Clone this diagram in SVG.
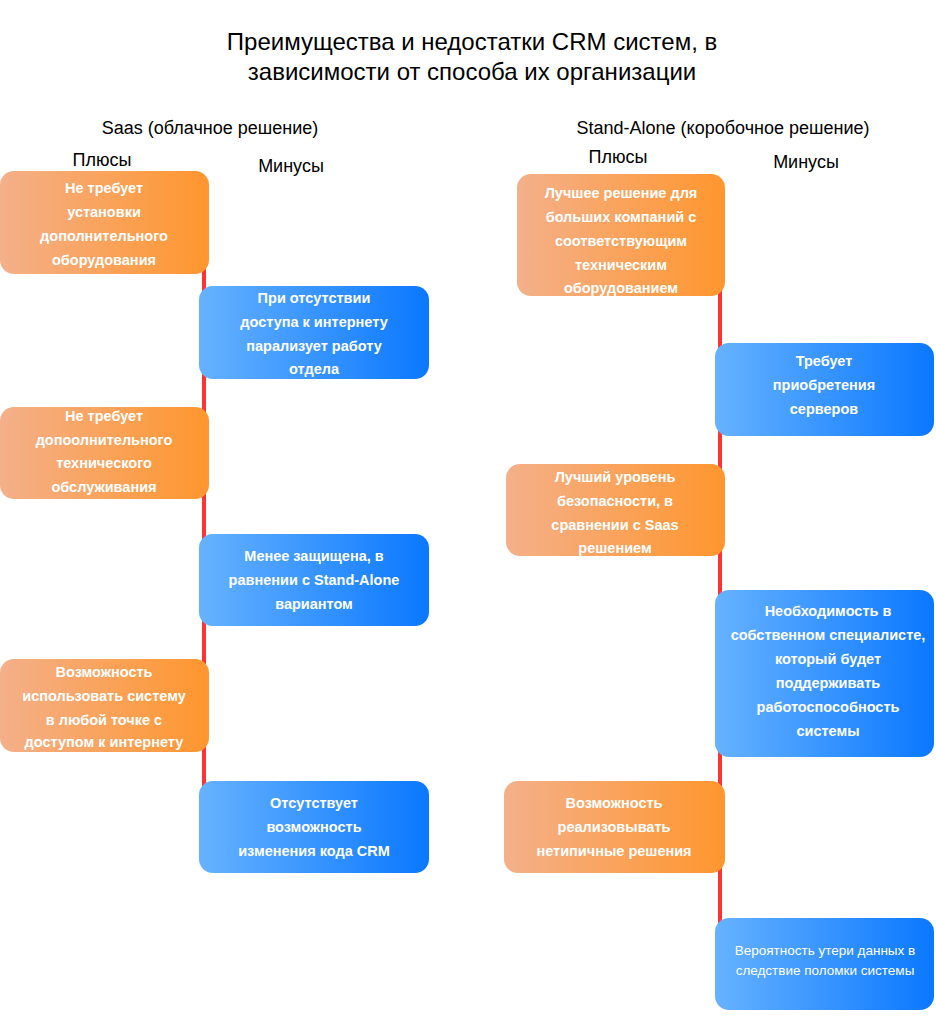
<svg xmlns="http://www.w3.org/2000/svg" width="936" height="1024" viewBox="0 0 936 1024">
<defs>
<linearGradient id="og" x1="0" y1="0" x2="1" y2="0"><stop offset="0" stop-color="#F4B08A"/><stop offset="1" stop-color="#FF962E"/></linearGradient>
<linearGradient id="bg" x1="0" y1="0" x2="1" y2="0"><stop offset="0" stop-color="#66B2FF"/><stop offset="1" stop-color="#0A78FF"/></linearGradient>
<style>
text{font-family:"Liberation Sans",Arial,sans-serif}
.h{font-size:24px;fill:#000;text-anchor:middle}
.s{font-size:18px;fill:#000;text-anchor:middle}
.t{font-size:14.5px;font-weight:bold;fill:#fff;text-anchor:middle}
.tn{font-size:13.5px;fill:#fff;text-anchor:middle}
.o{fill:url(#og)}
.b{fill:url(#bg)}
.l{stroke:#FF3333;stroke-width:4}
</style>
</defs>
<rect width="936" height="1024" fill="#fff"/>
<text class="h" x="472" y="50">Преимущества и недостатки CRM систем, в</text>
<text class="h" x="472" y="80">зависимости от способа их организации</text>
<text class="s" x="210" y="134">Saas (облачное решение)</text>
<text class="s" x="723" y="134">Stand-Alone (коробочное решение)</text>
<text class="s" x="102" y="166">Плюсы</text>
<text class="s" x="291" y="172">Минусы</text>
<text class="s" x="618" y="163">Плюсы</text>
<text class="s" x="806" y="168">Минусы</text>
<g id="connectors">
<line class="l" x1="204" y1="260" x2="204" y2="800"/>
<line class="l" x1="720" y1="285" x2="720" y2="930"/>
</g>
<g id="l1"><rect class="o" x="0" y="171" width="209" height="103" rx="14"/>
<text class="t" x="104"><tspan x="104" y="193">Не требует</tspan><tspan x="104" y="217">установки</tspan><tspan x="104" y="241">дополнительного</tspan><tspan x="104" y="265">оборудования</tspan></text></g>
<g id="l2"><rect class="b" x="199" y="286" width="230" height="93" rx="14"/>
<text class="t"><tspan x="314" y="303">При отсутствии</tspan><tspan x="314" y="327">доступа к интернету</tspan><tspan x="314" y="351">парализует работу</tspan><tspan x="314" y="374">отдела</tspan></text></g>
<g id="l3"><rect class="o" x="0" y="407" width="209" height="92" rx="14"/>
<text class="t"><tspan x="104" y="421">Не требует</tspan><tspan x="104" y="445">допоолнительного</tspan><tspan x="104" y="468">технического</tspan><tspan x="104" y="492">обслуживания</tspan></text></g>
<g id="l4"><rect class="b" x="199" y="534" width="230" height="92" rx="14"/>
<text class="t"><tspan x="314" y="561">Менее защищена, в</tspan><tspan x="314" y="585">равнении с Stand-Alone</tspan><tspan x="314" y="609">вариантом</tspan></text></g>
<g id="l5"><rect class="o" x="0" y="659" width="209" height="93" rx="14"/>
<text class="t"><tspan x="104" y="677">Возможность</tspan><tspan x="104" y="701">использовать систему</tspan><tspan x="104" y="725">в любой точке с</tspan><tspan x="104" y="747">доступом к интернету</tspan></text></g>
<g id="l6"><rect class="b" x="199" y="781" width="230" height="92" rx="14"/>
<text class="t"><tspan x="314" y="808">Отсутствует</tspan><tspan x="314" y="832">возможность</tspan><tspan x="314" y="856">изменения кода CRM</tspan></text></g>
<g id="r1"><rect class="o" x="517" y="174" width="208" height="122" rx="14"/>
<text class="t"><tspan x="621" y="198">Лучшее решение для</tspan><tspan x="621" y="222">больших компаний с</tspan><tspan x="621" y="246">соответствующим</tspan><tspan x="621" y="270">техническим</tspan><tspan x="621" y="293">оборудованием</tspan></text></g>
<g id="r2"><rect class="b" x="715" y="343" width="219" height="93" rx="14"/>
<text class="t"><tspan x="824" y="366">Требует</tspan><tspan x="824" y="390">приобретения</tspan><tspan x="824" y="414">серверов</tspan></text></g>
<g id="r3"><rect class="o" x="506" y="464" width="219" height="92" rx="14"/>
<text class="t"><tspan x="615" y="482">Лучший уровень</tspan><tspan x="615" y="506">безопасности, в</tspan><tspan x="615" y="530">сравнении с Saas</tspan><tspan x="615" y="553">решением</tspan></text></g>
<g id="r4"><rect class="b" x="715" y="590" width="219" height="167" rx="14"/>
<text class="t"><tspan x="828" y="616">Необходимость в</tspan><tspan x="828" y="640">собственном специалисте,</tspan><tspan x="828" y="664">который будет</tspan><tspan x="828" y="688">поддерживать</tspan><tspan x="828" y="712">работоспособность</tspan><tspan x="828" y="736">системы</tspan></text></g>
<g id="r5"><rect class="o" x="504" y="781" width="221" height="92" rx="14"/>
<text class="t"><tspan x="614" y="808">Возможность</tspan><tspan x="614" y="832">реализовывать</tspan><tspan x="614" y="856">нетипичные решения</tspan></text></g>
<g id="r6"><rect class="b" x="715" y="918" width="219" height="92" rx="14"/>
<text class="tn"><tspan x="825" y="955">Вероятность утери данных в</tspan><tspan x="825" y="975">следствие поломки системы</tspan></text></g>
</svg>
